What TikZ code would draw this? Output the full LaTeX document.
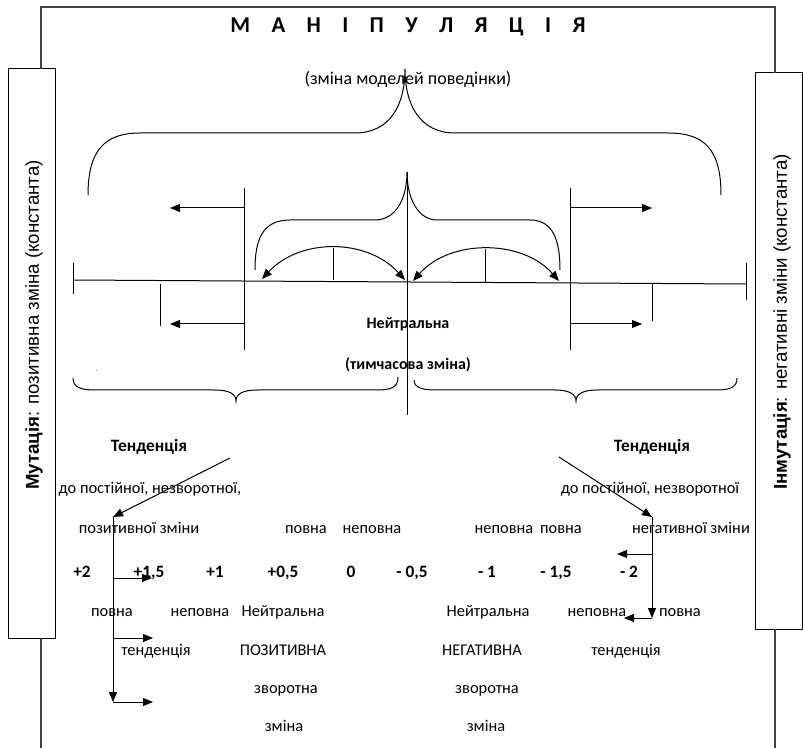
\documentclass[tikz,border=0pt]{standalone}
\usepackage{fontspec}
\setmainfont{Carlito}
\newfontfamily\sidefont{Liberation Sans}
\usetikzlibrary{arrows.meta}

\begin{document}
\begin{tikzpicture}[
    %% Styles  (one unit = one pixel of the sheet, y runs downwards)
    x=0.75pt, y=-0.75pt,
    line width=0.75pt,
    lbl/.style={font=\fontsize{12.3}{14}\selectfont, inner sep=0pt, text height=8pt, text depth=2.5pt},
    blbl/.style={font=\fontsize{12}{14}\selectfont\bfseries, inner sep=0pt, text height=8pt, text depth=2.5pt},
    num/.style={font=\fontsize{13}{15}\selectfont\bfseries, inner sep=0pt, text height=8.5pt, text depth=2.5pt},
    sidebox/.style={draw, inner sep=0pt, minimum width=35.25pt},
    sidetxt/.style={font=\sidefont\fontsize{14}{16}\selectfont, rotate=90, inner sep=0pt},
    frame/.style={draw=black!75, line width=0.9pt},
    arrow/.style={-{Triangle[length=7.5pt,width=6pt]}},
    biarrow/.style={{Triangle[length=7.5pt,width=6pt]}-{Triangle[length=7.5pt,width=6pt]}},
    brace/.style={draw, line width=0.75pt}
  ]
  \useasboundingbox (0,0) rectangle (803,748);

  %% ── Side boxes ───────────────────────────────────────────
  \node[sidebox, minimum height=426.75pt] (mutbox) at (31.5,353.5) {};
  \node[sidebox, minimum height=417pt]    (inmbox) at (778.5,351) {};
  \node[sidetxt] (muttxt) at (34,325) {\textbf{Мутація}: позитивна зміна (константа)};
  \node[sidetxt] (inmtxt) at (782,322) {\textbf{Інмутація}: негативні зміни (константа)};

  % frame round the whole scheme
  \coordinate (fl) at (41,69);   \coordinate (fr) at (775,73);
  \coordinate (fl2) at (41,638); \coordinate (fr2) at (775,629);
  \coordinate (flb) at (41,748); \coordinate (frb) at (775,748);
  \draw[frame] (fl) -- (41,7) -- (775,7) -- (fr);
  \draw[frame] (fl2) -- (flb);
  \draw[frame] (fr2) -- (frb);

  %% ── Title ────────────────────────────────────────────────
  \node[font=\fontsize{17}{19}\selectfont\bfseries] (title) at (408,27)
    {М\hspace{16pt}А\hspace{16pt}Н\hspace{16pt}І\hspace{16pt}П\hspace{16pt}У\hspace{16pt}Л\hspace{16pt}Я\hspace{16pt}Ц\hspace{16pt}І\hspace{16pt}Я};
  \node[lbl, font=\fontsize{13.5}{15}\selectfont] (subtitle) at (408,81) {(зміна моделей поведінки)};

  %% ── Braces ───────────────────────────────────────────────
  % big one, tip up
  \draw[brace] (88,195) .. controls (88,150) and (105,133) .. (140,133) -- (355,133)
    .. controls (390,133) and (405,105) .. (405,69)
    .. controls (405,105) and (420,133) .. (455,133) -- (668,133)
    .. controls (705,133) and (721,150) .. (721,195);
  % small one, tip up
  \draw[brace] (255,270) .. controls (255,240) and (262,220) .. (290,220) -- (375,220)
    .. controls (395,220) and (407,200) .. (407,172)
    .. controls (407,200) and (419,220) .. (437,220) -- (530,220)
    .. controls (553,220) and (560,240) .. (560,270);
  % two bottom ones, tip down
  \draw[brace] (73,378) .. controls (73,387) and (80,390) .. (95,390) -- (215,390)
    .. controls (229,390) and (236,394) .. (236,401)
    .. controls (236,394) and (243,390) .. (257,390) -- (377,390)
    .. controls (392,390) and (398,387) .. (398,377);
  \draw[brace] (414,380) .. controls (414,387) and (421,390) .. (435,390) -- (555,390)
    .. controls (569,390) and (576,394) .. (576,401)
    .. controls (576,394) and (583,390) .. (597,390) -- (716,390)
    .. controls (731,390) and (737,387) .. (737,378);

  %% ── Scale line ───────────────────────────────────────────
  \coordinate (axl) at (73,280);  \coordinate (axr) at (746,284);
  \draw (axl) -- (axr);
  \draw (73,263) -- (73,294);
  \draw (746,263) -- (746,300);
  \draw (160,284) -- (160,326);
  \draw (652,284) -- (652,321);
  \draw (407,172) -- (407,415);
  \draw (244,188) -- (244,350);
  \draw (570,188) -- (570,350);

  % arrows off the two borders
  \coordinate (al1) at (244,208); \coordinate (al1e) at (170,208);
  \coordinate (al2) at (244,324); \coordinate (al2e) at (170,324);
  \coordinate (ar1) at (570,208); \coordinate (ar1e) at (652,208);
  \coordinate (ar2) at (570,324); \coordinate (ar2e) at (642,324);
  \draw[arrow] (al1) -- (al1e);
  \draw[arrow] (al2) -- (al2e);
  \draw[arrow] (ar1) -- (ar1e);
  \draw[arrow] (ar2) -- (ar2e);

  % the two arcs round zero
  \coordinate (cl) at (262,279); \coordinate (c0l) at (405,280);
  \coordinate (c0r) at (413,281); \coordinate (cr) at (559,281);
  \draw[biarrow] (cl) .. controls (300,238) and (367,238) .. (c0l);
  \draw[biarrow] (c0r) .. controls (450,239) and (522,239) .. (cr);
  \draw (333,248) -- (333,280);
  \draw (485,249) -- (485,283);

  \node[blbl] (neut) at (408,325) {Нейтральна};
  \node[blbl] (temp) at (408,366) {(тимчасова зміна)};
  \node[lbl, font=\tiny, text height=2pt, text depth=0pt] (dot) at (97,370) {.};

  %% ── Tendencies ───────────────────────────────────────────
  \node[blbl, font=\fontsize{13}{15}\selectfont\bfseries] (tendl) at (149,448) {Тенденція};
  \node[blbl, font=\fontsize{13}{15}\selectfont\bfseries] (tendr) at (652,448) {Тенденція};
  \node[lbl] (tl1) at (150,490) {до постійної, незворотної,};
  \node[lbl] (tl2) at (139,530) {позитивної зміни};
  \node[lbl] (tr1) at (650,490) {до постійної, незворотної};
  \node[lbl] (tr2) at (691,530) {негативної зміни};
  \node[lbl] (pl) at (306,530) {повна};
  \node[lbl] (npl) at (372,530) {неповна};
  \node[lbl] (npr) at (504,530) {неповна};
  \node[lbl] (pr) at (561,530) {повна};

  %% ── Numbers ──────────────────────────────────────────────
  \foreach \v/\xx [count=\i] in {+2/82, +1{,}5/149, +1/215, +0{,}5/283, 0/351,
      - 0{,}5/412, - 1/487, - 1{,}5/556, - 2/629}
    \node[num] (n\i) at (\xx,573) {\v};

  %% ── Left branch ──────────────────────────────────────────
  \coordinate (ls) at (230,458);  \coordinate (lt) at (113,517);
  \coordinate (lb) at (113,702);
  \draw[arrow] (ls) -- (lt);
  \draw[arrow] (lt) -- (lb);
  \draw[arrow] (113,578) -- (152,578);
  \draw[arrow] (113,638) -- (153,638);
  \draw[arrow] (lb) -- (153,702);

  \node[lbl] (b1) at (112,613) {повна};
  \node[lbl] (b2) at (200,613) {неповна};
  \node[lbl] (b3) at (283,613) {Нейтральна};
  \node[lbl] (b4) at (156,652) {тенденція};
  \node[lbl] (b5) at (283,652) {ПОЗИТИВНА};
  \node[lbl] (b6) at (286,690) {зворотна};
  \node[lbl] (b7) at (284,728) {зміна};

  %% ── Right branch ─────────────────────────────────────────
  \coordinate (rs) at (559,457);  \coordinate (rt) at (652,517);
  \coordinate (rb) at (652,618);
  \draw[arrow] (rs) -- (rt);
  \draw[arrow] (rt) -- (rb);
  \draw[arrow] (652,554) -- (617,554);
  \draw[arrow] (rb) -- (624,618);

  \node[lbl] (c1) at (488,613) {Нейтральна};
  \node[lbl] (c2) at (597,613) {неповна};
  \node[lbl] (c3) at (680,613) {повна};
  \node[lbl] (c4) at (482,652) {НЕГАТИВНА};
  \node[lbl] (c5) at (626,652) {тенденція};
  \node[lbl] (c6) at (487,690) {зворотна};
  \node[lbl] (c7) at (486,728) {зміна};

\end{tikzpicture}
\end{document}
